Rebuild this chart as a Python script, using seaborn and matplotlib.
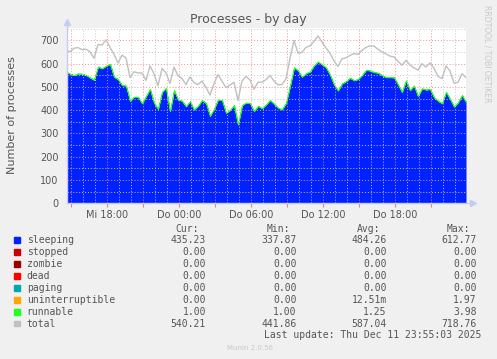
import pandas as pd
import seaborn as sns
import matplotlib.pyplot as plt
import matplotlib.dates as mdates
from matplotlib.ticker import MultipleLocator, FixedLocator
from matplotlib.patches import Rectangle

# 20 minute samples, Wed 14:35 -> Thu 23:55
times = pd.date_range('2025-12-10 14:35', '2025-12-11 23:55', freq='20min')

sleeping = [565, 556, 550, 557, 556, 550, 540, 530, 586, 579,
            590, 598, 543, 533, 507, 505, 440, 457, 457, 429,
            460, 490, 432, 405, 478, 495, 395, 486, 445, 440,
            416, 438, 402, 418, 443, 430, 375, 405, 445, 443,
            388, 400, 422, 338, 421, 432, 430, 395, 418, 408,
            424, 443, 427, 410, 403, 430, 502, 583, 570, 543,
            558, 565, 592, 608, 596, 583, 552, 510, 484, 514,
            524, 538, 528, 533, 550, 572, 570, 563, 560, 550,
            541, 541, 540, 510, 478, 527, 485, 505, 460, 493,
            488, 490, 455, 440, 429, 478, 448, 415, 433, 464,
            435]

runnable = [1, 1, 1, 1.2, 1, 1, 1, 1.5, 2, 1,
            1, 1.3, 1, 1, 1, 1.2, 1, 1, 1, 1,
            1, 1.4, 1, 1, 1, 1.1, 1, 1, 1, 1,
            1, 1, 1, 1, 1.3, 1, 1, 1, 1.2, 1,
            1, 1, 1, 1, 1, 1, 1, 1, 1, 1,
            1, 1.2, 1, 1, 1, 2.5, 3.98, 1.5, 1.2, 1,
            1.3, 1.5, 1.2, 1.4, 1.3, 1.2, 1, 1, 1, 1.1,
            1.2, 1.5, 1.3, 1.2, 1.4, 1.6, 1.3, 1.2, 1.5, 1.3,
            1.2, 1.4, 1.3, 1.2, 1, 1.5, 1.2, 1, 1, 1.3,
            1.2, 1.5, 1.2, 1, 1, 1.3, 1.2, 1, 1, 1.3,
            1]

total = [657, 651, 666, 669, 660, 662, 651, 623, 682, 680,
         702, 670, 640, 603, 636, 625, 540, 565, 560, 560,
         528, 590, 556, 505, 579, 560, 515, 585, 548, 536,
         510, 543, 518, 510, 525, 498, 465, 514, 553, 525,
         497, 508, 520, 442, 525, 545, 530, 490, 520, 520,
         531, 550, 525, 509, 510, 535, 622, 700, 645, 648,
         670, 676, 695, 719, 693, 667, 645, 611, 588, 621,
         625, 635, 643, 640, 657, 670, 676, 675, 662, 650,
         642, 632, 629, 610, 593, 614, 594, 582, 572, 600,
         585, 603, 580, 545, 536, 590, 568, 516, 520, 557,
         540]

tick_times = pd.date_range('2025-12-10 15:00', '2025-12-11 21:00', freq='3h')
tick_labels = ['', 'Mi 18:00', '', 'Do 00:00', '', 'Do 06:00', '',
               'Do 12:00', '', 'Do 18:00', '']

legend_names = ['sleeping', 'stopped', 'zombie', 'dead', 'paging',
                'uninterruptible', 'runnable', 'total']
legend_colors = ['#0022ff', '#cc0000', '#990000', '#ff0000', '#00aaaa',
                 '#ffa500', '#22ff22', '#c0c0c0']
cur_vals = ['435.23', '0.00', '0.00', '0.00', '0.00', '0.00', '1.00', '540.21']
min_vals = ['337.87', '0.00', '0.00', '0.00', '0.00', '0.00', '1.00', '441.86']
avg_vals = ['484.26', '0.00', '0.00', '0.00', '0.00', '12.51m', '1.25', '587.04']
max_vals = ['612.77', '0.00', '0.00', '0.00', '0.00', '1.97', '3.98', '718.76']

df = pd.DataFrame({'time': times, 'sleeping': sleeping,
                   'runnable': runnable, 'total': total})
df['top'] = df['sleeping'] + df['runnable']

W, H = 497, 359
txt = '#555555'
fig = plt.figure(figsize=(W / 100, H / 100), dpi=100, facecolor='#f0f0f0')
ax = fig.add_axes([67 / W, 1 - 203.3 / H, 399 / W, 175.3 / H])
ax.set_facecolor('white')

ax.fill_between(df['time'], 0, df['sleeping'], color='#0022ff', lw=0, zorder=1)
ax.fill_between(df['time'], df['sleeping'], df['top'], color='#22ff22',
                edgecolor='#22ff22', lw=0.6, zorder=1.2)
sns.lineplot(data=df, x='time', y='total', color='#c0c0c0', lw=1.0,
             ax=ax, zorder=3)

ax.set_xlim(pd.Timestamp('2025-12-10 14:40'), pd.Timestamp('2025-12-11 23:55'))
ax.set_ylim(0, 753)

# grid
ax.set_axisbelow(False)
ax.yaxis.set_major_locator(MultipleLocator(100))
ax.yaxis.set_minor_locator(MultipleLocator(50))
ax.xaxis.set_major_locator(FixedLocator(mdates.date2num(tick_times)))
ax.xaxis.set_minor_locator(mdates.HourLocator())
ax.set_xticklabels(tick_labels)
ax.grid(which='minor', color='#c8c8c8', linestyle=(0, (1, 2)), lw=0.7)
ax.grid(which='major', color='#f09090', linestyle=(0, (1, 2)), lw=0.7)

ax.tick_params(axis='both', which='both', labelsize=7, labelcolor=txt)
ax.tick_params(axis='y', which='both', length=0, pad=6)
ax.tick_params(axis='x', which='major', length=3, color='#f08080', pad=1.5)
ax.tick_params(axis='x', which='minor', length=0)
ax.set_xlabel('')
ax.set_ylabel('')

for s in ['top', 'right', 'left', 'bottom']:
    ax.spines[s].set_visible(False)
# axis lines with arrows
ac = '#c4ccf2'
ax.plot([0, 0], [0, 1.03], color=ac, lw=1, transform=ax.transAxes, clip_on=False, zorder=4)
ax.plot([0, 1.015], [0, 0], color=ac, lw=1, transform=ax.transAxes, clip_on=False, zorder=4)
ax.plot([0], [1.035], marker='^', ms=4, color=ac, transform=ax.transAxes, clip_on=False)
ax.plot([1.017], [0], marker='>', ms=4, color=ac, transform=ax.transAxes, clip_on=False)

fig.text(248.5 / W, 1 - 19.3 / H, 'Processes - by day', ha='center', va='center',
         fontsize=9, color=txt)
fig.text(12 / W, 1 - 115 / H, 'Number of processes', rotation=90, ha='center',
         va='center', fontsize=8, color=txt)
fig.text(487 / W, 1 - 5 / H, 'RRDTOOL / TOBI OETIKER', rotation=270, ha='center',
         va='top', fontsize=5.5, color='#c8c8c8')

# legend table
mono = 'DejaVu Sans Mono'
for x, h in zip([199, 290, 380, 470], ['Cur:', 'Min:', 'Avg:', 'Max:']):
    fig.text(x / W, 1 - 228.5 / H, h, ha='right', va='center', fontsize=7,
             color=txt, family=mono)
for i, name in enumerate(legend_names):
    y = 240 + i * 11.95
    fig.patches.append(Rectangle((14 / W, 1 - (y + 2.8) / H), 5.5 / W, 5.5 / H,
                                 transform=fig.transFigure, color=legend_colors[i]))
    fig.text(26.7 / W, 1 - y / H, name, ha='left', va='center', fontsize=7,
             color=txt, family=mono)
    for x, v in zip([206, 296.7, 386.7, 476.7],
                    [cur_vals[i], min_vals[i], avg_vals[i], max_vals[i]]):
        fig.text(x / W, 1 - y / H, v, ha='right', va='center', fontsize=7,
                 color=txt, family=mono)
fig.text(481.7 / W, 1 - 335 / H, 'Last update: Thu Dec 11 23:55:03 2025',
         ha='right', va='center', fontsize=7, color=txt, family=mono)
fig.text(250 / W, 1 - 347.5 / H, 'Munin 2.0.56', ha='center', va='center',
         fontsize=5, color='#c8c8c8')

fig.savefig('out.png', dpi=100, facecolor=fig.get_facecolor())
